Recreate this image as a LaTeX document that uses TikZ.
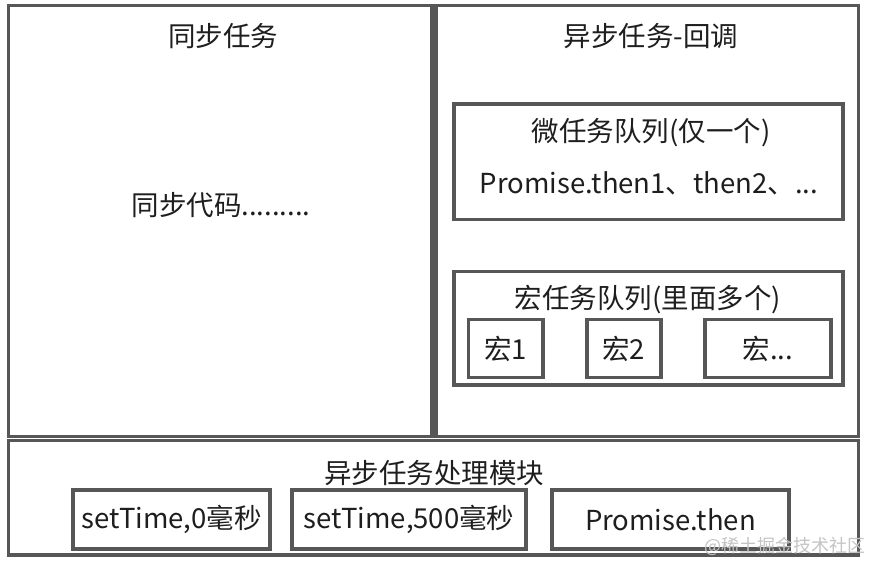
\documentclass[tikz,border=0pt]{standalone}
\usepackage{fontspec}
\setmainfont{Noto Sans CJK SC}
\definecolor{framegray}{HTML}{575757}
\definecolor{txt}{HTML}{1E1E1E}
\definecolor{wm}{HTML}{C4C4C4}
\tikzset{
  box/.style={draw=framegray, line width=3.6pt, inner sep=0pt, outer sep=0pt, fill=none, text=txt,
    font=\fontsize{27.5}{32}\selectfont},
  lbl/.style={inner sep=0pt, text=txt, font=\fontsize{27.5}{32}\selectfont},
}
\begin{document}
\begin{tikzpicture}[x=1pt,y=-1pt]
\useasboundingbox[fill=white] (0,0) rectangle (872,563);
% big frames
\node[box, minimum width=423.7pt, minimum height=431pt] (sync) at (220.35,221) {};
\node[box, minimum width=422.7pt, minimum height=431pt] (async) at (647.15,221) {};
\node[box, minimum width=850pt, minimum height=114.7pt] (module) at (433.5,497.65) {};
% titles
\node[lbl] (syncT) at (223,36) {同步任务};
\node[lbl] (asyncT) at (651,36) {异步任务-回调};
\node[lbl] (syncC) at (221,205) {同步代码.........};
% micro queue
\node[box, minimum width=389pt, minimum height=115.5pt] (micro) at (648.5,161.75) {};
\node[lbl] (microT) at (651,133) {微任务队列(仅一个)};
\node[lbl] (microC) at (649,183) {Promise.then1、then2、...};
% macro queue
\node[box, minimum width=389pt, minimum height=113.5pt] (macro) at (648.5,328.25) {};
\node[lbl] (macroT) at (648,300) {宏任务队列(里面多个)};
\node[box, minimum width=74.7pt, minimum height=58pt] (m1) at (505.85,348.5) {宏1};
\node[box, minimum width=74.1pt, minimum height=58pt] (m2) at (623.85,348.5) {宏2};
\node[box, minimum width=126.1pt, minimum height=58pt] (m3) at (767.85,348.5) {宏...};
% module
\node[lbl] (moduleT) at (434,473) {异步任务处理模块};
\node[box, minimum width=197.4pt, minimum height=59.4pt] (b1) at (171.5,519.5) {setTime,0毫秒};
\node[box, minimum width=234.4pt, minimum height=59.4pt] (b2) at (409,519.5) {setTime,500毫秒};
\node[box, minimum width=237.4pt, minimum height=59.4pt] (b3) at (670.5,519.5) {Promise.then};
% watermark
\node[inner sep=0pt, text=wm, font=\fontsize{18}{21}\selectfont, anchor=east] (wmark) at (866,546) {@稀土掘金技术社区};
\end{tikzpicture}
\end{document}
